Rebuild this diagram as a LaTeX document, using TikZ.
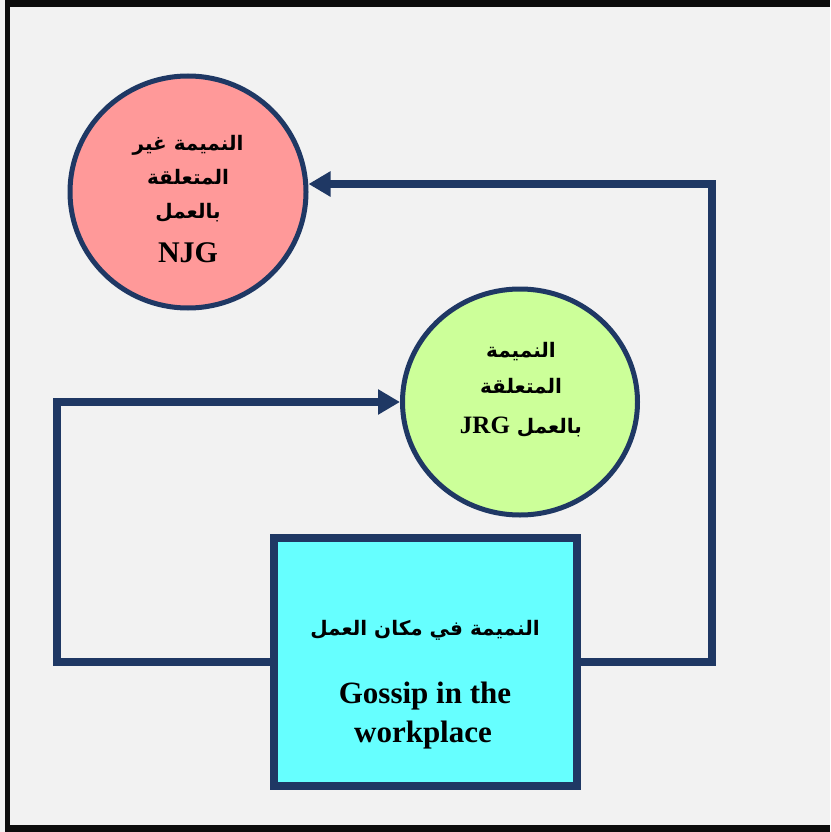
\documentclass[tikz,border=0pt]{standalone}
\usepackage{fontspec}
\setmainfont{Liberation Serif}
\newfontfamily\arabicfont[Script=Arabic]{DejaVu Sans}
\TeXXeTstate=1
\usetikzlibrary{arrows.meta,shapes.geometric}
\definecolor{navy}{HTML}{1F3864}
\definecolor{paper}{HTML}{F2F2F2}
\definecolor{frameblack}{HTML}{0D0D0D}
\definecolor{njgred}{HTML}{FF9999}
\definecolor{jrggreen}{HTML}{CCFF99}
\definecolor{topiccyan}{HTML}{66FFFF}
\begin{document}
\begin{tikzpicture}[x=1pt,y=-1pt,
  bubble/.style={ellipse,draw=navy,line width=5pt,inner sep=0pt},
  topicbox/.style={rectangle,draw=navy,line width=8pt,fill=topiccyan,inner sep=0pt,
    minimum width=303pt,minimum height=248pt},
  link/.style={draw=navy,line width=8pt,line join=miter,
    -{Triangle[length=22pt,width=24pt]}},
  ar/.style={font=\arabicfont\bfseries\fontsize{20}{24}\selectfont,inner sep=0pt},
  en/.style={font=\bfseries\fontsize{31}{40}\selectfont,inner sep=0pt,anchor=base}]
  % page and outer frame
  \useasboundingbox (0,0) rectangle (830,832);
  \fill[paper] (0,0) rectangle (830,832);
  \fill[frameblack] (5,0) rectangle (830,7);
  \fill[frameblack] (5,0) rectangle (10,832);
  \fill[frameblack] (5,825) rectangle (830,832);

  % circles
  \node[bubble,fill=njgred,minimum width=236pt,minimum height=232pt] (njg) at (188,192) {};
  \node[bubble,fill=jrggreen,minimum width=235pt,minimum height=226pt] (jrg) at (520,402) {};

  % central box
  \node[topicbox] (topic) at (425.5,662) {};

  % connectors
  \coordinate (rturn) at (712,184);
  \coordinate (lturn) at (57,402);
  \draw[link] (topic.east) -| (rturn) -- (njg.east |- rturn);
  \draw[link] (topic.west) -| (lturn) -- (jrg.west |- lturn);

  % labels of the red circle
  \node[ar] (njg1) at (188,145) {\beginR النميمة غير\endR};
  \node[ar] (njg2) at (188,177) {\beginR المتعلقة\endR};
  \node[ar] (njg3) at (188,213) {\beginR بالعمل\endR};
  \node[en,font=\bfseries\fontsize{30}{36}\selectfont] (njg4) at (188,262) {NJG};

  % labels of the green circle
  \node[ar] (jrg1) at (521,352) {\beginR النميمة\endR};
  \node[ar] (jrg2) at (521,386) {\beginR المتعلقة\endR};
  \node[ar] (jrg3) at (521,427) {\beginR بالعمل {\rmfamily\fontsize{25}{30}\selectfont\beginL JRG\endL}\endR};

  % labels of the box
  \node[ar] (topic1) at (425,630) {\beginR النميمة في مكان العمل\endR};
  \node[en] (topic2) at (425,703) {Gossip in the};
  \node[en] (topic3) at (423,742) {workplace};
\end{tikzpicture}
\end{document}
